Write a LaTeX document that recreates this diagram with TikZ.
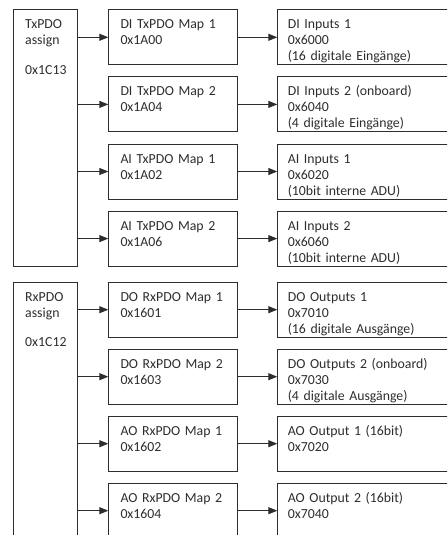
\documentclass[tikz,border=0pt]{standalone}
\usepackage{fontspec}
\setmainfont{Carlito}
\usetikzlibrary{arrows.meta}
\definecolor{pdogray}{RGB}{45,45,45}

\begin{document}
\begin{tikzpicture}[x=1pt,y=-1pt,
  pdobox/.style={draw=pdogray,line width=1pt,anchor=north west,align=left,inner ysep=0pt,
    text=pdogray,font=\fontsize{13.8}{16}\selectfont,text height=19pt},
  assignbox/.style={pdobox,inner xsep=12pt,text width=40.6pt},
  mapbox/.style={pdobox,inner xsep=11.7pt,text width=105.6pt,text depth=36pt},
  objbox/.style={pdobox,inner xsep=10pt,text width=180pt,text depth=36pt},
  pdoarrow/.style={draw=pdogray,line width=1pt,-{Triangle[length=9pt,width=7pt]}}]
\useasboundingbox (0,0) rectangle (447,535);
\clip (0,0) rectangle (447,535);
% TxPDO
\node[assignbox,text depth=237.5pt] (tx) at (12.7,9.3) {TxPDO\\assign\\[13.4pt]0x1C13};
\node[mapbox] (dimap1) at (108.3,9.3) {DI TxPDO Map 1\\0x1A00};
\node[objbox] (diin1) at (277.3,9.3) {DI Inputs 1\\0x6000\\(16 digitale Eingänge)};
\node[mapbox] (dimap2) at (108.3,76.4) {DI TxPDO Map 2\\0x1A04};
\node[objbox] (diin2) at (277.3,76.4) {DI Inputs 2 (onboard)\\0x6040\\(4 digitale Eingänge)};
\node[mapbox] (aimap1) at (108.3,143.5) {AI TxPDO Map 1\\0x1A02};
\node[objbox] (aiin1) at (277.3,143.5) {AI Inputs 1\\0x6020\\(10bit interne ADU)};
\node[mapbox] (aimap2) at (108.3,210.6) {AI TxPDO Map 2\\0x1A06};
\node[objbox] (aiin2) at (277.3,210.6) {AI Inputs 2\\0x6060\\(10bit interne ADU)};
% RxPDO
\node[assignbox,text depth=270pt] (rx) at (12.7,281.7) {RxPDO\\assign\\[13.4pt]0x1C12};
\node[mapbox] (domap1) at (108.3,281.7) {DO RxPDO Map 1\\0x1601};
\node[objbox] (doout1) at (277.3,281.7) {DO Outputs 1\\0x7010\\(16 digitale Ausgänge)};
\node[mapbox] (domap2) at (108.3,348.7) {DO RxPDO Map 2\\0x1603};
\node[objbox] (doout2) at (277.3,348.7) {DO Outputs 2 (onboard)\\0x7030\\(4 digitale Ausgänge)};
\node[mapbox] (aomap1) at (108.3,415.7) {AO RxPDO Map 1\\0x1602};
\node[objbox] (aoout1) at (277.3,415.7) {AO Output 1 (16bit)\\0x7020};
\node[mapbox] (aomap2) at (108.3,482.7) {AO RxPDO Map 2\\0x1604};
\node[objbox] (aoout2) at (277.3,482.7) {AO Output 2 (16bit)\\0x7040};
% arrows
\foreach \m/\o in {dimap1/diin1,dimap2/diin2,aimap1/aiin1,aimap2/aiin2}{
  \draw[pdoarrow] (tx.east |- \m.west) -- (\m.west);
  \draw[pdoarrow] (\m.east) -- (\o.west);}
\foreach \m/\o in {domap1/doout1,domap2/doout2,aomap1/aoout1,aomap2/aoout2}{
  \draw[pdoarrow] (rx.east |- \m.west) -- (\m.west);
  \draw[pdoarrow] (\m.east) -- (\o.west);}
\end{tikzpicture}
\end{document}
